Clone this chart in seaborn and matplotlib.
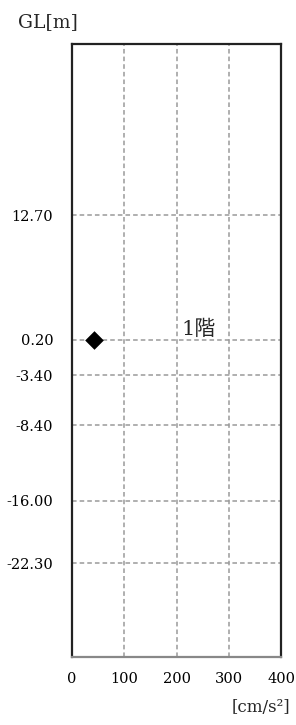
import matplotlib
matplotlib.use('Agg')
import matplotlib.pyplot as plt
import seaborn as sns
import pandas as pd

# data
floor_labels = ['1階']
accel_values = [42.7]        # cm/s2
level_values = [0.20]        # GL m
ytick_values = [12.70, 0.20, -3.40, -8.40, -16.00, -22.30]
xtick_values = [0, 100, 200, 300, 400]

df = pd.DataFrame({'accel': accel_values, 'GL': level_values, 'floor': floor_labels})

sns.set_style('white')
plt.rcParams['font.family'] = ['DejaVu Serif', 'Noto Sans CJK JP']
plt.rcParams['axes.unicode_minus'] = False

fig = plt.figure(figsize=(2.96, 7.25), dpi=100)
ax = fig.add_axes([72 / 296, 1 - 657 / 725, 209 / 296, 613 / 725])

sns.scatterplot(data=df, x='accel', y='GL', marker='D', s=90, color='black',
                edgecolor='black', linewidth=0, zorder=5, ax=ax, legend=False)

ax.set_xlim(0, 400)
ax.set_ylim(-31.75, 29.95)

ax.set_xticks(xtick_values)
ax.set_xticklabels([str(v) for v in xtick_values])
ax.set_yticks(ytick_values)
ax.set_yticklabels(['%.2f' % v for v in ytick_values])

ax.grid(True, color='#9a9a9a', linestyle=(0, (3, 2)), linewidth=1.1)
ax.tick_params(axis='both', length=0, labelsize=10.5, colors='black')
ax.tick_params(axis='y', pad=13.5)
ax.tick_params(axis='x', pad=11)

for side in ['top', 'left', 'right']:
    ax.spines[side].set_color('#222222')
    ax.spines[side].set_linewidth(1.6)
ax.spines['bottom'].set_color('#888888')
ax.spines['bottom'].set_linewidth(1.6)

ax.set_xlabel('')
ax.set_ylabel('')

# floor label
for lab, y in zip(floor_labels, level_values):
    ax.text(209, y + 0.45, lab, fontsize=15, ha='left', va='baseline',
            family=['DejaVu Serif', 'Noto Sans CJK JP'])

fig.text(18 / 296, 1 - 22 / 725, 'GL[m]', fontsize=13.5, ha='left', va='center')
fig.text(290 / 296, 1 - 707 / 725, '[cm/s²]', fontsize=12, ha='right', va='center')

fig.savefig('out.png', dpi=100)
plt.close(fig)
